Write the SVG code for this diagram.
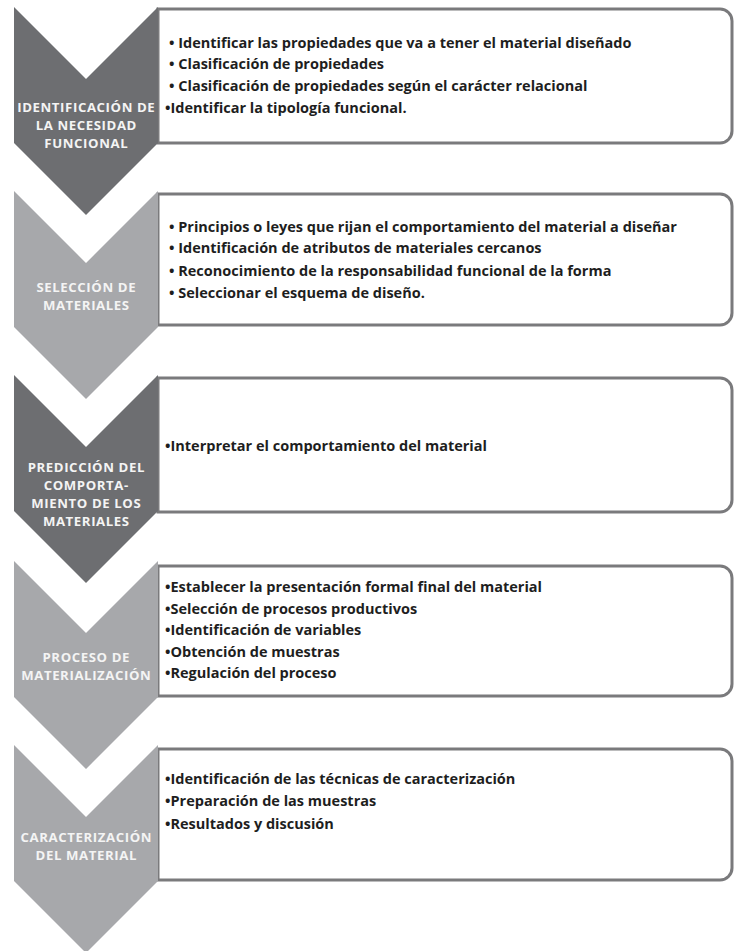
<svg xmlns="http://www.w3.org/2000/svg" width="734" height="951" viewBox="0 0 734 951">
<style>
.box{fill:#fff;stroke:#7a7a7c;stroke-width:3}
.dark{fill:#6d6e71}
.light{fill:#a7a8ab}
.ct{font-family:"Open Sans","DejaVu Sans",sans-serif;font-weight:700;font-size:13.2px;letter-spacing:0.6px;fill:#f4f4f4;text-anchor:middle}
.bt{font-family:"Open Sans","DejaVu Sans",sans-serif;font-weight:700;font-size:14.5px;fill:#1e1e1e}
</style>
<rect width="734" height="951" fill="#fff"/>
<g id="step1">
<path class="box" d="M158 9H720A12 12 0 0 1 732 21V131A12 12 0 0 1 720 143H158Z"/>
<path class="dark" d="M14 7L86 79L158 7V143L86 215L14 143Z"/>
<text class="ct" x="86.3" y="112">IDENTIFICACIÓN DE</text>
<text class="ct" x="86.3" y="130">LA NECESIDAD</text>
<text class="ct" x="86.3" y="148">FUNCIONAL</text>
<text class="bt" x="169" y="48">• Identificar las propiedades que va a tener el material diseñado</text>
<text class="bt" x="169" y="69">• Clasificación de propiedades</text>
<text class="bt" x="169" y="91">• Clasificación de propiedades según el carácter relacional</text>
<text class="bt" x="165" y="113">•Identificar la tipología funcional.</text>
</g>
<g id="step2">
<path class="box" d="M158 194H720A12 12 0 0 1 732 206V313A12 12 0 0 1 720 325H158Z"/>
<path class="light" d="M14 191L86 263L158 191V327L86 399L14 327Z"/>
<text class="ct" x="86.3" y="292">SELECCIÓN DE</text>
<text class="ct" x="86.3" y="310">MATERIALES</text>
<text class="bt" x="169" y="232">• Principios o leyes que rijan el comportamiento del material a diseñar</text>
<text class="bt" x="169" y="253">• Identificación de  atributos de materiales cercanos</text>
<text class="bt" x="169" y="276">• Reconocimiento de la responsabilidad funcional de la forma</text>
<text class="bt" x="169" y="298">• Seleccionar el esquema de diseño.</text>
</g>
<g id="step3">
<path class="box" d="M158 378H720A12 12 0 0 1 732 390V500A12 12 0 0 1 720 512H158Z"/>
<path class="dark" d="M14 375L86 447L158 375V511L86 583L14 511Z"/>
<text class="ct" x="86.3" y="472">PREDICCIÓN DEL</text>
<text class="ct" x="86.3" y="490">COMPORTA-</text>
<text class="ct" x="86.3" y="508">MIENTO DE LOS</text>
<text class="ct" x="86.3" y="526">MATERIALES</text>
<text class="bt" x="165" y="451">•Interpretar el comportamiento del material</text>
</g>
<g id="step4">
<path class="box" d="M158 566H720A12 12 0 0 1 732 578V684A12 12 0 0 1 720 696H158Z"/>
<path class="light" d="M14 561L86 633L158 561V697L86 769L14 697Z"/>
<text class="ct" x="86.3" y="662">PROCESO DE</text>
<text class="ct" x="86.3" y="680">MATERIALIZACIÓN</text>
<text class="bt" x="165" y="592">•Establecer la presentación formal final del material</text>
<text class="bt" x="165" y="613.5">•Selección de procesos productivos</text>
<text class="bt" x="165" y="635">•Identificación de variables</text>
<text class="bt" x="165" y="656.5">•Obtención de muestras</text>
<text class="bt" x="165" y="678">•Regulación del proceso</text>
</g>
<g id="step5">
<path class="box" d="M158 749H720A12 12 0 0 1 732 761V868A12 12 0 0 1 720 880H158Z"/>
<path class="light" d="M14 745L86 817L158 745V881L86 953L14 881Z"/>
<text class="ct" x="86.3" y="842">CARACTERIZACIÓN</text>
<text class="ct" x="86.3" y="860">DEL MATERIAL</text>
<text class="bt" x="165" y="784">•Identificación de las técnicas de caracterización</text>
<text class="bt" x="165" y="806">•Preparación de las muestras</text>
<text class="bt" x="165" y="829">•Resultados y discusión</text>
</g>
<g id="connectors"/>
</svg>
